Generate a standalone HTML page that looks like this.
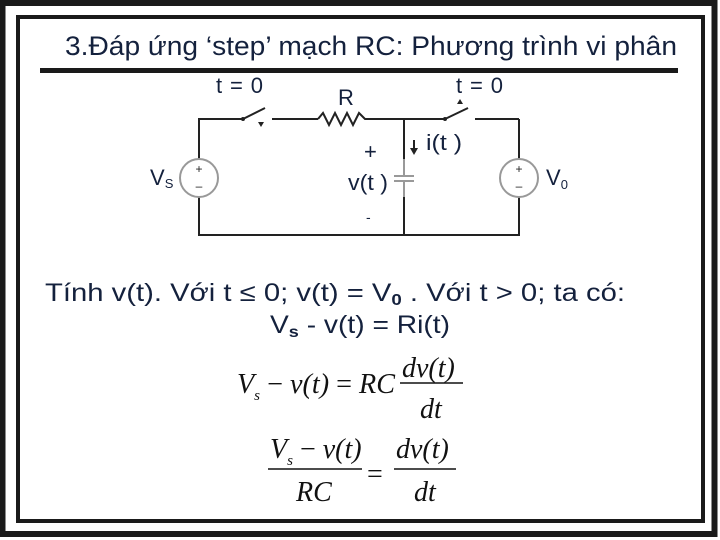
<!DOCTYPE html>
<html><head><meta charset="utf-8"><style>
html,body{margin:0;padding:0;background:#fff;}
svg{display:block}
</style></head><body>
<svg width="720" height="540" viewBox="0 0 720 540" xmlns="http://www.w3.org/2000/svg">
<rect x="0" y="0" width="720" height="540" fill="#fff"/>
<rect x="2.5" y="3" width="712" height="531" fill="none" stroke="#1a1a1a" stroke-width="6"/>
<rect x="18" y="17" width="685" height="504" fill="none" stroke="#1a1a1a" stroke-width="4"/>
<text x="65" y="55" font-family="Liberation Sans, sans-serif" font-size="27" fill="#14213d" textLength="612" lengthAdjust="spacingAndGlyphs">3.Đáp ứng ‘step’ mạch RC: Phương trình vi phân</text>
<rect x="40" y="68" width="638" height="5" fill="#1a1a1a"/>
<g stroke="#222" stroke-width="2" fill="none">
<polyline points="243,119 199,119 199,159"/>
<polyline points="199,197 199,235 519,235 519,197"/>
<line x1="272" y1="119" x2="318" y2="119"/>
<polyline points="318,119 323,113 329,125 335,113 341,125 347,113 353,125 359,113 365,119 372,119"/>
<line x1="372" y1="119" x2="445" y2="119"/>
<line x1="475" y1="119" x2="519" y2="119"/>
<line x1="519" y1="119" x2="519" y2="159"/>
<line x1="404" y1="119" x2="404" y2="159"/>
<line x1="404" y1="197" x2="404" y2="235"/>
<line x1="243" y1="119" x2="265" y2="108"/>
<line x1="445" y1="119" x2="468" y2="108"/>
</g>
<g stroke="#999" stroke-width="2">
<line x1="404" y1="159" x2="404" y2="176"/>
<line x1="404" y1="181" x2="404" y2="197"/>
<line x1="394" y1="176" x2="414" y2="176"/>
<line x1="394" y1="181" x2="414" y2="181"/>
</g>
<circle cx="243" cy="119" r="2" fill="#222"/>
<circle cx="445" cy="119" r="2" fill="#222"/>
<polygon points="258,122 264,122 261,127" fill="#222"/>
<polygon points="457,104 463,104 460,99" fill="#222"/>
<circle cx="199" cy="178" r="19" fill="none" stroke="#999" stroke-width="2"/>
<circle cx="519" cy="178" r="19" fill="none" stroke="#999" stroke-width="2"/>
<g font-family="Liberation Sans, sans-serif" fill="#222">
<text x="199" y="173" font-size="12" text-anchor="middle">+</text>
<text x="199" y="190" font-size="12" text-anchor="middle">–</text>
<text x="519" y="173" font-size="12" text-anchor="middle">+</text>
<text x="519" y="190" font-size="12" text-anchor="middle">–</text>
</g>
<g font-family="Liberation Sans, sans-serif" fill="#14213d" font-size="22">
<text x="216" y="93" textLength="47" lengthAdjust="spacing">t=0</text>
<text x="456" y="93" textLength="47" lengthAdjust="spacing">t=0</text>
<text x="338" y="105">R</text>
<text x="364" y="159">+</text>
<text x="348" y="190" textLength="40" lengthAdjust="spacingAndGlyphs">v(t )</text>
<text x="366" y="222" font-size="14">-</text>
<text x="426" y="150" textLength="36" lengthAdjust="spacingAndGlyphs">i(t )</text>
<text x="150" y="185">V<tspan font-size="13" dy="3">S</tspan></text>
<text x="546" y="185">V<tspan font-size="13" dy="4">0</tspan></text>
</g>
<line x1="414" y1="140" x2="414" y2="150" stroke="#222" stroke-width="2"/>
<polygon points="410,148 418,148 414,155" fill="#222"/>
<g font-family="Liberation Sans, sans-serif" fill="#14213d" font-size="25">
<text x="45" y="301" textLength="580" lengthAdjust="spacingAndGlyphs">Tính v(t). Với t ≤ 0;  v(t) = V<tspan font-size="16" font-weight="bold" dy="4">0</tspan><tspan dy="-4">  . Với t &gt; 0; ta có:</tspan></text>
<text x="270" y="333" textLength="180" lengthAdjust="spacingAndGlyphs">V<tspan font-size="16" font-weight="bold" dy="4">s</tspan><tspan dy="-4">  - v(t) = Ri(t)</tspan></text>
</g>
<g font-family="Liberation Serif, serif" font-size="28" fill="#111" font-style="italic">
<text x="237" y="393" textLength="158" lengthAdjust="spacingAndGlyphs">V<tspan font-size="15" dy="7">s</tspan><tspan dy="-7" font-style="normal"> − </tspan>v(t)<tspan font-style="normal"> = </tspan>RC</text>
<text x="402" y="377">dv(t)</text>
<text x="420" y="418">dt</text>
<text x="270" y="458">V<tspan font-size="15" dy="7">s</tspan><tspan dy="-7" font-style="normal"> − </tspan>v(t)</text>
<text x="296" y="501">RC</text>
<text x="367" y="483" font-style="normal">=</text>
<text x="396" y="458">dv(t)</text>
<text x="414" y="501">dt</text>
</g>
<line x1="400" y1="383" x2="463" y2="383" stroke="#111" stroke-width="1.5"/>
<line x1="268" y1="469" x2="362" y2="469" stroke="#111" stroke-width="1.5"/>
<line x1="394" y1="469" x2="456" y2="469" stroke="#111" stroke-width="1.5"/>
</svg>
</body></html>
